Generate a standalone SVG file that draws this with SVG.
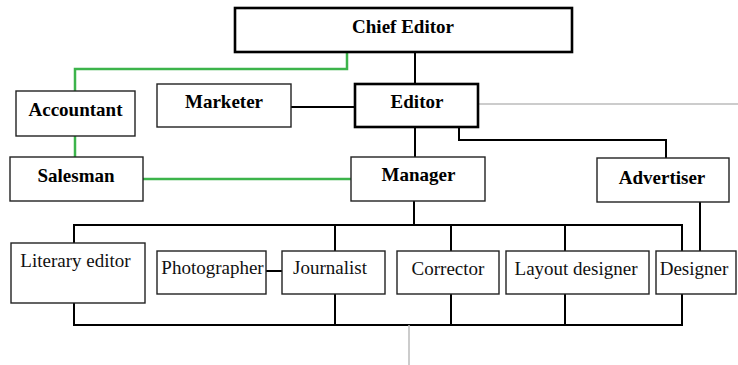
<svg xmlns="http://www.w3.org/2000/svg" width="738" height="365" viewBox="0 0 738 365">
<style>
.box{fill:#fff;stroke:#222;stroke-width:1.4}
.thick{fill:#fff;stroke:#000;stroke-width:2.6}
.b{font-weight:bold;font-size:19px;fill:#000;text-anchor:middle}
.r{font-size:19px;fill:#111;text-anchor:middle}
.k{fill:none;stroke:#000;stroke-width:2}
.g{fill:none;stroke:#3cb44b;stroke-width:2.5}
.gr{fill:none;stroke:#bbb;stroke-width:1.5}
</style>
<g id="connectors">
<path class="g" d="M347 52 V69 H75 V91"/>
<path class="g" d="M75 136 V157"/>
<path class="g" d="M143 179 H351"/>
<path class="k" d="M291 107 H355"/>
<path class="k" d="M415 52 V84"/>
<path class="k" d="M415 127 V157"/>
<path class="k" d="M459 127 V140 H666 V158"/>
<path class="gr" d="M478 104 H738"/>
<path class="k" d="M414 201 V225"/>
<path class="k" d="M74 225 H682 V325 H74 Z"/>
<path class="k" d="M335 225 V325"/>
<path class="k" d="M451 225 V325"/>
<path class="k" d="M565 225 V325"/>
<path class="k" d="M700 202 V251"/>
<path class="k" d="M266 271 H282"/>
<path class="gr" d="M409 325 V365"/>
</g>
<g font-family="Liberation Serif, serif">
<g id="chief-editor"><rect class="thick" x="235" y="8" width="337" height="44"/><text class="b" x="403" y="33">Chief Editor</text></g>
<g id="accountant"><rect class="box" x="16" y="91" width="119" height="45"/><text class="b" x="75.5" y="116">Accountant</text></g>
<g id="marketer"><rect class="box" x="157" y="84" width="134" height="43"/><text class="b" x="224" y="108">Marketer</text></g>
<g id="editor"><rect class="thick" x="355" y="84" width="123" height="43"/><text class="b" x="417" y="108">Editor</text></g>
<g id="salesman"><rect class="box" x="10" y="157" width="133" height="44"/><text class="b" x="76" y="181.5">Salesman</text></g>
<g id="manager"><rect class="box" x="351" y="157" width="134" height="44"/><text class="b" x="418.5" y="181">Manager</text></g>
<g id="advertiser"><rect class="box" x="597" y="158" width="132" height="44"/><text class="b" x="662" y="183.5">Advertiser</text></g>
<g id="literary-editor"><rect class="box" x="11" y="243" width="134" height="60"/><text class="r" x="75.5" y="267">Literary editor</text></g>
<g id="photographer"><rect class="box" x="157" y="251" width="109" height="43"/><text class="r" x="212.5" y="274">Photographer</text></g>
<g id="journalist"><rect class="box" x="282" y="251" width="103" height="43"/><text class="r" x="330" y="274">Journalist</text></g>
<g id="corrector"><rect class="box" x="397" y="251" width="102" height="43"/><text class="r" x="448" y="275">Corrector</text></g>
<g id="layout-designer"><rect class="box" x="506" y="251" width="143" height="43"/><text class="r" x="576" y="275">Layout designer</text></g>
<g id="designer"><rect class="box" x="656" y="251" width="80" height="43"/><text class="r" x="694" y="275">Designer</text></g>
</g>
</svg>
